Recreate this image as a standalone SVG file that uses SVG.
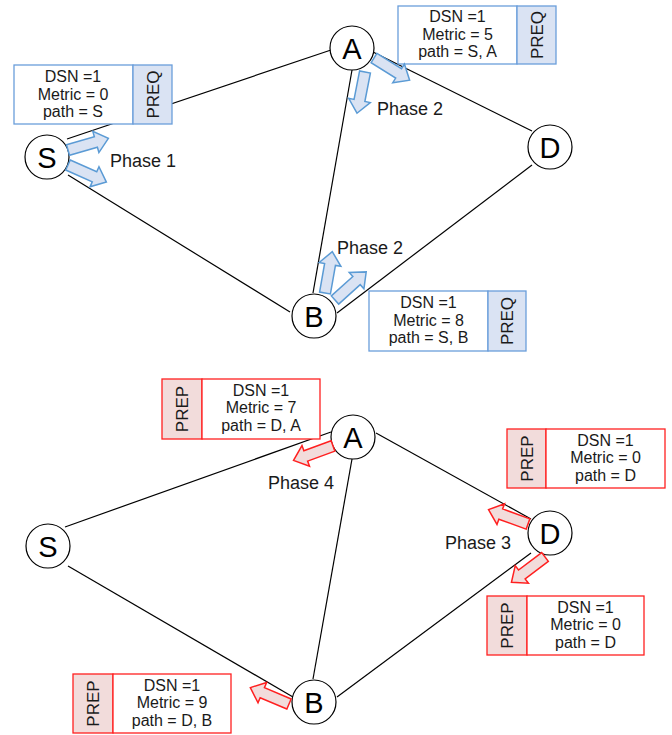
<svg xmlns="http://www.w3.org/2000/svg" xmlns:xlink="http://www.w3.org/1999/xlink" width="672" height="735" viewBox="0 0 672 735">
<style>
.edge{stroke:#000;stroke-width:1.2;fill:none}
.node circle{fill:#fff;stroke:#000;stroke-width:1.2}
.node text{font-family:"Liberation Sans",Arial,sans-serif;font-size:29px;text-anchor:middle;fill:#000}
.bt{font-family:"Liberation Sans",Arial,sans-serif;font-size:16px;text-anchor:middle;fill:#1a1a1a}
.bv{font-family:"Liberation Sans",Arial,sans-serif;font-size:17px;text-anchor:middle;fill:#1a1a1a}
.lbl{font-family:"Liberation Sans",Arial,sans-serif;font-size:18px;fill:#1a1a1a}
.bbox{fill:#fff;stroke:#6a9edb;stroke-width:1.3}
.bside{fill:#dae3f3;stroke:#6a9edb;stroke-width:1.3}
.rbox{fill:#fff;stroke:#ff2020;stroke-width:1.3}
.rside{fill:#f2dcdb;stroke:#ff2020;stroke-width:1.3}
.ba{fill:#dae3f3;stroke:#5b9bd5;stroke-width:1.5;stroke-linejoin:miter}
.ra{fill:#f2dcdb;stroke:#ff2020;stroke-width:1.5;stroke-linejoin:miter}
</style>
<defs>
<path id="arr" d="M0,-5.5 L29,-5.5 L29,-11 L42,0 L29,11 L29,5.5 L0,5.5 Z"/>
</defs>
<rect width="672" height="735" fill="#fff"/>

<g id="connectors">
<line class="edge" x1="67" y1="139" x2="331" y2="50"/>
<line class="edge" x1="68" y1="175" x2="290" y2="312"/>
<line class="edge" x1="352" y1="70" x2="313" y2="293"/>
<line class="edge" x1="373" y1="52" x2="532" y2="131"/>
<line class="edge" x1="337" y1="313" x2="532" y2="165"/>
<line class="edge" x1="65" y1="527" x2="331" y2="432"/>
<line class="edge" x1="68" y1="566" x2="293" y2="697"/>
<line class="edge" x1="352" y1="459" x2="313" y2="679"/>
<line class="edge" x1="376" y1="433" x2="531" y2="519"/>
<line class="edge" x1="337" y1="697" x2="531" y2="553"/>
</g>

<g id="box-S-top">
<rect class="bbox" x="14" y="65" width="119" height="59"/>
<rect class="bside" x="133" y="65" width="39" height="59"/>
<text class="bt" x="73" y="82">DSN =1</text>
<text class="bt" x="73" y="99.5">Metric = 0</text>
<text class="bt" x="73" y="117">path = S</text>
<text class="bv" transform="translate(153,94.5) rotate(-90)" y="6">PREQ</text>
</g>
<g id="box-A-top">
<rect class="bbox" x="398" y="6" width="119" height="58"/>
<rect class="bside" x="517" y="6" width="39" height="58"/>
<text class="bt" x="457.5" y="22">DSN =1</text>
<text class="bt" x="457.5" y="39.5">Metric = 5</text>
<text class="bt" x="457.5" y="57">path = S, A</text>
<text class="bv" transform="translate(536.5,35) rotate(-90)" y="6">PREQ</text>
</g>
<g id="box-B-top">
<rect class="bbox" x="369" y="291" width="119" height="60"/>
<rect class="bside" x="488" y="291" width="38" height="60"/>
<text class="bt" x="428.5" y="308">DSN =1</text>
<text class="bt" x="428.5" y="325.5">Metric = 8</text>
<text class="bt" x="428.5" y="343">path = S, B</text>
<text class="bv" transform="translate(507,321) rotate(-90)" y="6">PREQ</text>
</g>

<g id="box-A-bottom">
<rect class="rside" x="162" y="379" width="40" height="60"/>
<rect class="rbox" x="202" y="379" width="118" height="60"/>
<text class="bt" x="261" y="395.5">DSN =1</text>
<text class="bt" x="261" y="413">Metric = 7</text>
<text class="bt" x="261" y="430.5">path = D, A</text>
<text class="bv" transform="translate(182,409) rotate(-90)" y="6">PREP</text>
</g>
<g id="box-D-bottom-1">
<rect class="rside" x="507" y="429" width="39" height="59"/>
<rect class="rbox" x="546" y="429" width="119" height="59"/>
<text class="bt" x="605.5" y="445.5">DSN =1</text>
<text class="bt" x="605.5" y="463">Metric = 0</text>
<text class="bt" x="605.5" y="480.5">path = D</text>
<text class="bv" transform="translate(526.5,458.5) rotate(-90)" y="6">PREP</text>
</g>
<g id="box-D-bottom-2">
<rect class="rside" x="487" y="596" width="40" height="59"/>
<rect class="rbox" x="527" y="596" width="117" height="59"/>
<text class="bt" x="585.5" y="612.5">DSN =1</text>
<text class="bt" x="585.5" y="630">Metric = 0</text>
<text class="bt" x="585.5" y="647.5">path = D</text>
<text class="bv" transform="translate(507,625.5) rotate(-90)" y="6">PREP</text>
</g>
<g id="box-B-bottom">
<rect class="rside" x="73" y="674" width="40" height="59"/>
<rect class="rbox" x="113" y="674" width="118" height="59"/>
<text class="bt" x="172" y="690.5">DSN =1</text>
<text class="bt" x="172" y="708">Metric = 9</text>
<text class="bt" x="172" y="725.5">path = D, B</text>
<text class="bv" transform="translate(93,703.5) rotate(-90)" y="6">PREP</text>
</g>

<g id="node-S-top" class="node"><circle cx="47" cy="157" r="22"/><text x="47" y="167.5">S</text></g>
<g id="node-A-top" class="node"><circle cx="352" cy="48" r="22"/><text x="352" y="58.5">A</text></g>
<g id="node-D-top" class="node"><circle cx="550" cy="147" r="22"/><text x="550" y="157.5">D</text></g>
<g id="node-B-top" class="node"><circle cx="314" cy="316" r="22"/><text x="314" y="326.5">B</text></g>
<g id="node-S-bottom" class="node"><circle cx="48" cy="546" r="22"/><text x="48" y="556.5">S</text></g>
<g id="node-A-bottom" class="node"><circle cx="353" cy="437" r="22"/><text x="353" y="447.5">A</text></g>
<g id="node-D-bottom" class="node"><circle cx="550" cy="533" r="22"/><text x="550" y="543.5">D</text></g>
<g id="node-B-bottom" class="node"><circle cx="314" cy="702" r="22"/><text x="314" y="712.5">B</text></g>

<g id="phase-arrows">
<use xlink:href="#arr" class="ba" transform="translate(68,150) rotate(-16)"/>
<use xlink:href="#arr" class="ba" transform="translate(68,165) rotate(24)"/>
<use xlink:href="#arr" class="ba" transform="translate(374,58) rotate(32)"/>
<use xlink:href="#arr" class="ba" transform="translate(365,72) rotate(101)"/>
<use xlink:href="#arr" class="ba" transform="translate(325,293) rotate(-80)"/>
<use xlink:href="#arr" class="ba" transform="translate(335,300) rotate(-42)"/>
<use xlink:href="#arr" class="ra" transform="translate(333,446) rotate(160)"/>
<use xlink:href="#arr" class="ra" transform="translate(528,524) rotate(200)"/>
<use xlink:href="#arr" class="ra" transform="translate(545,557) rotate(143)"/>
<use xlink:href="#arr" class="ra" transform="translate(289,704) rotate(203)"/>
</g>

<g id="labels">
<text class="lbl" x="110" y="167">Phase 1</text>
<text class="lbl" x="377" y="115">Phase 2</text>
<text class="lbl" x="337" y="254">Phase 2</text>
<text class="lbl" x="268" y="489">Phase 4</text>
<text class="lbl" x="445" y="549">Phase 3</text>
</g>
</svg>
